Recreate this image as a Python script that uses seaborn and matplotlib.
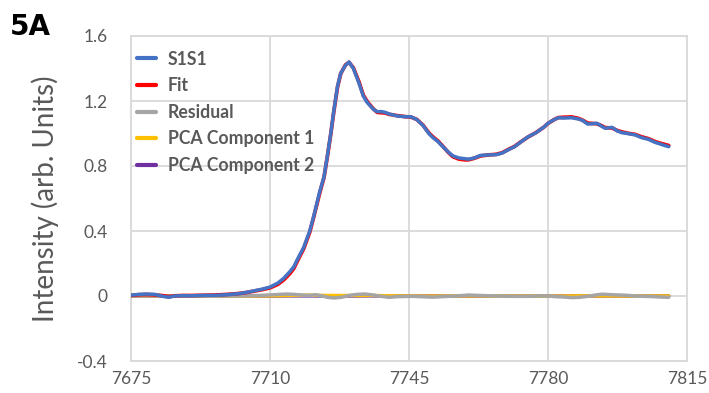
import matplotlib
matplotlib.use("Agg")
import matplotlib.pyplot as plt
import seaborn as sns
import pandas as pd

# ---- data ----
energy = [7675.0, 7677, 7679, 7681, 7683, 7684.5, 7686, 7688, 7690, 7692, 7694, 7696, 7698,
          7700, 7702, 7704, 7706, 7708, 7710, 7712, 7713.5, 7715, 7716, 7717, 7718.5, 7720,
          7721, 7722.5, 7723.6, 7724.5, 7725.3, 7726.1, 7727, 7727.8, 7729, 7729.9, 7731,
          7732.4, 7733.5, 7734.5, 7736, 7737, 7738, 7739, 7740, 7742, 7744, 7745.5, 7747,
          7748.5, 7750, 7751, 7752.3, 7753.5, 7754.8, 7756, 7757.5, 7759, 7760, 7761.5,
          7763, 7765, 7767, 7768.5, 7770, 7771.6, 7773, 7775, 7777, 7779, 7780, 7781.5,
          7782.6, 7784, 7785.9, 7787.5, 7788.5, 7790, 7791, 7792.3, 7793.5, 7794.4, 7796.1,
          7797.5, 7798.6, 7800, 7802, 7803.5, 7805.3, 7807, 7808.3, 7809.5, 7810.4]

s1s1 = [0.005, 0.010, 0.012, 0.010, -0.002, -0.008, 0.000, 0.002, 0.001, 0.003, 0.004, 0.004,
        0.006, 0.010, 0.014, 0.022, 0.032, 0.042, 0.055, 0.080, 0.110, 0.150, 0.180, 0.230,
        0.300, 0.400, 0.490, 0.640, 0.734, 0.870, 1.000, 1.145, 1.290, 1.370, 1.420, 1.440,
        1.400, 1.310, 1.230, 1.190, 1.150, 1.134, 1.135, 1.130, 1.120, 1.108, 1.103, 1.103,
        1.085, 1.050, 1.000, 0.975, 0.950, 0.920, 0.888, 0.863, 0.850, 0.845, 0.842, 0.850,
        0.865, 0.868, 0.870, 0.880, 0.900, 0.919, 0.945, 0.980, 1.005, 1.040, 1.063, 1.085,
        1.097, 1.095, 1.097, 1.090, 1.083, 1.058, 1.060, 1.063, 1.045, 1.032, 1.038, 1.015,
        1.005, 1.000, 0.991, 0.975, 0.964, 0.945, 0.935, 0.925, 0.919]

fit = [0.003, 0.008, 0.009, 0.007, 0.002, -0.004, 0.001, 0.003, 0.003, 0.004, 0.005, 0.006,
       0.008, 0.011, 0.015, 0.021, 0.030, 0.039, 0.050, 0.072, 0.100, 0.138, 0.170, 0.220,
       0.292, 0.392, 0.485, 0.632, 0.730, 0.866, 0.996, 1.140, 1.285, 1.368, 1.422, 1.438,
       1.404, 1.318, 1.236, 1.196, 1.152, 1.130, 1.128, 1.126, 1.118, 1.110, 1.104, 1.101,
       1.086, 1.052, 1.004, 0.980, 0.954, 0.922, 0.886, 0.858, 0.843, 0.838, 0.838, 0.848,
       0.862, 0.868, 0.872, 0.882, 0.902, 0.921, 0.946, 0.979, 1.006, 1.040, 1.062, 1.085,
       1.098, 1.100, 1.102, 1.094, 1.085, 1.064, 1.062, 1.060, 1.048, 1.036, 1.034, 1.018,
       1.010, 1.002, 0.994, 0.980, 0.968, 0.950, 0.940, 0.932, 0.926]

res_energy = [7675, 7690, 7700, 7705, 7708, 7711, 7714, 7716, 7718, 7720, 7721.5, 7723, 7724.5,
              7726, 7728, 7730, 7732, 7734, 7736, 7738, 7740, 7742, 7744, 7746, 7748, 7751,
              7754, 7757, 7760, 7763, 7766, 7768, 7771, 7775, 7778, 7780, 7782, 7784, 7786,
              7788, 7790, 7792, 7793.5, 7796, 7798, 7800, 7802, 7804, 7806, 7808, 7810.4]
residual = [0.000, 0.000, 0.000, 0.002, 0.004, 0.008, 0.012, 0.010, 0.006, 0.004, 0.008, 0.001,
            -0.008, -0.012, -0.008, 0.004, 0.010, 0.012, 0.006, -0.002, -0.008, -0.004, -0.003,
            -0.002, -0.004, -0.007, -0.003, 0.000, 0.006, 0.003, 0.001, 0.000, -0.002, -0.002,
            0.000, 0.000, -0.004, -0.006, -0.010, -0.008, -0.002, 0.006, 0.011, 0.008, 0.006,
            0.004, 0.000, -0.002, -0.003, -0.006, -0.008]

pca_energy = [7675, 7700, 7710, 7715, 7720, 7725, 7730, 7735, 7740, 7750, 7760, 7770, 7780,
              7790, 7800, 7810.4]
pca1 = [0.000, 0.000, 0.001, 0.004, 0.005, 0.003, 0.003, 0.004, 0.001, -0.001, 0.001, 0.000,
        -0.001, 0.001, 0.000, 0.000]
pca2 = [0.000, 0.000, 0.000, 0.001, 0.001, 0.000, 0.000, 0.001, 0.000, 0.000, 0.000, 0.000,
        0.000, 0.000, 0.000, 0.000]

x_ticks = [7675, 7710, 7745, 7780, 7815]
y_ticks = [-0.4, 0, 0.4, 0.8, 1.2, 1.6]
y_tick_labels = ["-0.4", "0", "0.4", "0.8", "1.2", "1.6"]

# ---- figure ----
sns.set_theme(style="white")
plt.rcParams["font.family"] = ["Lato", "DejaVu Sans"]

fig = plt.figure(figsize=(7.09, 3.93), dpi=100)
ax = fig.add_axes([131 / 709, 1 - 361 / 393, (687 - 131) / 709, (361 - 36) / 393])

main = pd.DataFrame({"E": energy, "S1S1": s1s1, "Fit": fit})
resd = pd.DataFrame({"E": res_energy, "Residual": residual})
pcad = pd.DataFrame({"E": pca_energy, "PCA1": pca1, "PCA2": pca2})

sns.lineplot(data=pcad, x="E", y="PCA2", ax=ax, color="#7030A0", lw=2.5,
             label="PCA Component 2", zorder=2)
sns.lineplot(data=pcad, x="E", y="PCA1", ax=ax, color="#FFC000", lw=2.5,
             label="PCA Component 1", zorder=3)
sns.lineplot(data=resd, x="E", y="Residual", ax=ax, color="#A5A5A5", lw=2.5,
             label="Residual", zorder=4)
sns.lineplot(data=main, x="E", y="Fit", ax=ax, color="#FF0000", lw=2.7,
             label="Fit", zorder=5)
sns.lineplot(data=main, x="E", y="S1S1", ax=ax, color="#4472C4", lw=2.5,
             label="S1S1", zorder=6)

ax.set_xlim(7675, 7815)
ax.set_ylim(-0.4, 1.6)
ax.set_xticks(x_ticks)
ax.set_xticklabels([str(t) for t in x_ticks])
ax.set_yticks(y_ticks)
ax.set_yticklabels(y_tick_labels)
ax.grid(True, color="#D9D9D9", lw=1.3)
ax.set_axisbelow(True)
for s in ax.spines.values():
    s.set_color("#D9D9D9")
    s.set_linewidth(1.3)
ax.tick_params(axis="both", length=0, labelsize=12.5, labelcolor="#595959")
ax.tick_params(axis="x", pad=7)
ax.tick_params(axis="y", pad=17)
ax.set_xlabel("")
ax.set_ylabel("Intensity (arb. Units)", fontsize=20, color="#595959", labelpad=13)

handles, labels = ax.get_legend_handles_labels()
order = ["S1S1", "Fit", "Residual", "PCA Component 1", "PCA Component 2"]
hmap = dict(zip(labels, handles))
leg = ax.legend([hmap[k] for k in order], order, loc="upper left",
                bbox_to_anchor=(0.011, 0.955), frameon=False, borderpad=0,
                borderaxespad=0, handlelength=1.05, handletextpad=0.7,
                labelspacing=0.54, prop={"size": 12.7, "weight": "bold"})
for t in leg.get_texts():
    t.set_color("#595959")
for h in leg.legend_handles:
    h.set_linewidth(3)

fig.text(10 / 709, 1 - 27 / 393, "5A", fontsize=20, fontweight="bold",
         family=["Liberation Sans Narrow", "DejaVu Sans Condensed", "DejaVu Sans"],
         va="center", ha="left", color="black")

fig.savefig("out.png", dpi=100, facecolor="white")
